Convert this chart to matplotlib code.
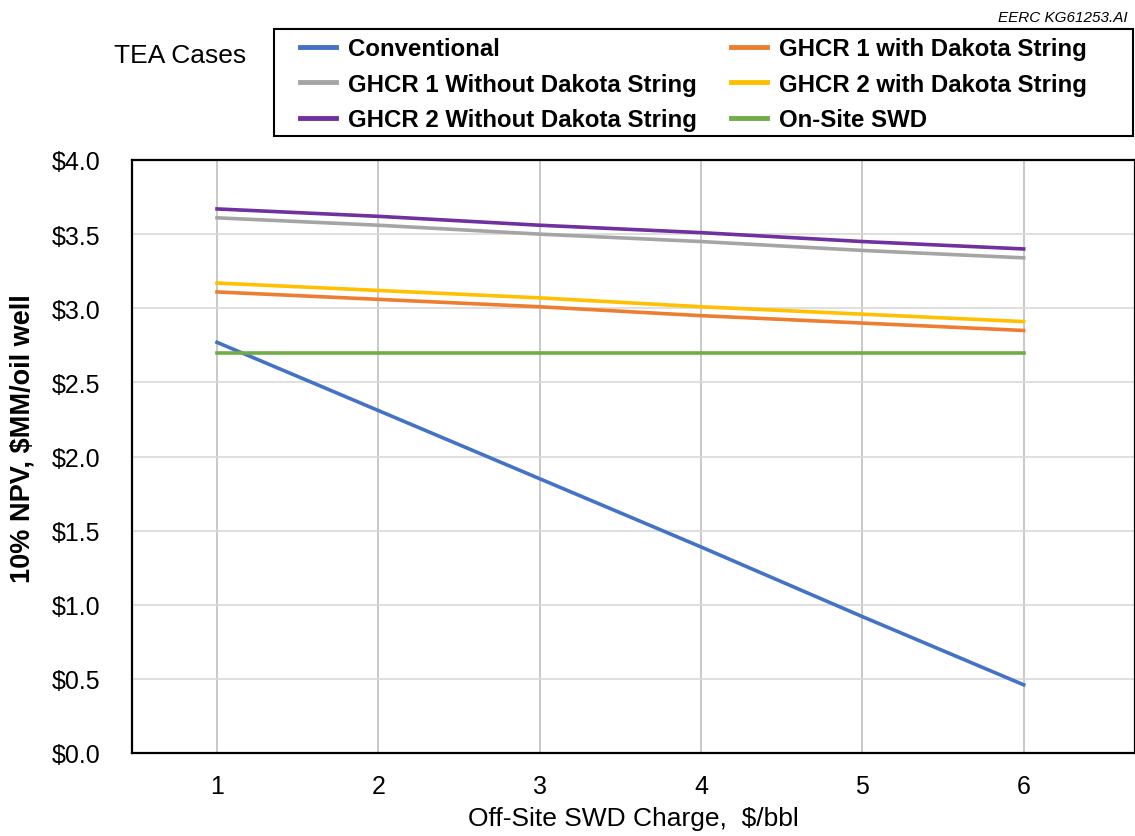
import matplotlib
matplotlib.use("Agg")
import matplotlib.pyplot as plt
from matplotlib.patches import Rectangle
from matplotlib.ticker import FuncFormatter

plt.rcParams['font.family'] = ['Liberation Sans', 'DejaVu Sans']

charge = [1, 2, 3, 4, 5, 6]
conventional = [2.77, 2.31, 1.85, 1.39, 0.92, 0.46]
ghcr1_with = [3.11, 3.06, 3.01, 2.95, 2.90, 2.85]
ghcr1_without = [3.61, 3.56, 3.50, 3.45, 3.39, 3.34]
ghcr2_with = [3.17, 3.12, 3.07, 3.01, 2.96, 2.91]
ghcr2_without = [3.67, 3.62, 3.56, 3.51, 3.45, 3.40]
onsite_swd = [2.70, 2.70, 2.70, 2.70, 2.70, 2.70]
y_ticks = [0.0, 0.5, 1.0, 1.5, 2.0, 2.5, 3.0, 3.5, 4.0]

W, H = 1135, 837
fig = plt.figure(figsize=(W / 100, H / 100), dpi=100)
ax = fig.add_axes([132 / W, 1 - 754 / H, (1135 - 132) / W, (754 - 161) / H])

lw = 2.6
l_conv, = ax.plot(charge, conventional, color='#4472C4', lw=lw, label='Conventional')
l_g1w, = ax.plot(charge, ghcr1_with, color='#ED7D31', lw=lw, label='GHCR 1 with Dakota String')
l_g1o, = ax.plot(charge, ghcr1_without, color='#A5A5A5', lw=lw, label='GHCR 1 Without Dakota String')
l_g2w, = ax.plot(charge, ghcr2_with, color='#FFC000', lw=lw, label='GHCR 2 with Dakota String')
l_g2o, = ax.plot(charge, ghcr2_without, color='#7030A0', lw=lw, label='GHCR 2 Without Dakota String')
l_swd, = ax.plot(charge, onsite_swd, color='#70AD47', lw=lw, label='On-Site SWD')

ax.set_xlim(0.473, 6.69)
ax.set_ylim(0, 4.0)
ax.set_xticks(charge)
ax.set_yticks(y_ticks)
ax.yaxis.set_major_formatter(FuncFormatter(lambda v, p: f"${v:.1f}"))
ax.tick_params(axis='both', length=0, labelsize=18, colors='black')
ax.tick_params(axis='x', pad=15)
ax.tick_params(axis='y', pad=23)

ax.grid(axis='y', color='#D9D9D9', lw=1.2)
ax.grid(axis='x', color='#BFBFBF', lw=1.2)
ax.set_axisbelow(True)
for s in ax.spines.values():
    s.set_color('black')
    s.set_linewidth(1.6)

ax.set_xlabel('Off-Site SWD Charge,  $/bbl', fontsize=19, labelpad=6)
ax.set_ylabel('10% NPV, $MM/oil well', fontsize=19.5, fontweight='bold',
              va='center')
ax.yaxis.set_label_coords(23 / W, 1 - 439 / H, transform=fig.transFigure)

# legend box drawn as a separate frame so the entries sit inset from its edge
fig.patches.append(Rectangle((274 / W, 1 - 137 / H), (1133 - 274) / W, (137 - 30) / H,
                             transform=fig.transFigure, fill=False,
                             edgecolor='black', lw=1.5))

handles = [l_conv, l_g1o, l_g2o, l_g1w, l_g2w, l_swd]
leg = fig.legend(handles=handles, labels=[h.get_label() for h in handles],
                 ncol=2, loc='upper left',
                 bbox_to_anchor=(293 / W, 1 - 31 / H),
                 prop={'weight': 'bold', 'size': 17.3},
                 frameon=False,
                 handlelength=1.5, handletextpad=0.5, columnspacing=1.42,
                 labelspacing=0.52, borderpad=0.3, borderaxespad=0)
for h in leg.legend_handles:
    h.set_linewidth(3.5)

fig.text(180 / W, 1 - 56 / H, 'TEA Cases', fontsize=19, ha='center', va='center')
fig.text(1128 / W, 1 - 18 / H, 'EERC KG61253.AI', fontsize=11, style='italic',
         ha='right', va='center')

fig.savefig('out.png', dpi=100)
